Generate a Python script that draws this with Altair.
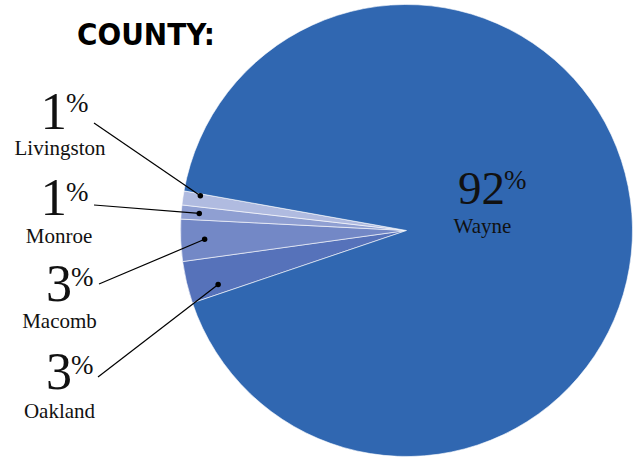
import math
import numpy as np
import pandas as pd
import altair as alt

# ---- data ----
counties = ["Oakland", "Macomb", "Monroe", "Livingston", "Wayne"]
shares = [3, 3, 1, 1, 92]
colors = ["#5672BA", "#7388C6", "#8F9FD2", "#B0BBE0", "#3067B1"]

# ---- layout ----
W, H = 634, 457
CX, CY, R = 406.5, 230.5, 226
START_DEG = 251.3
dot_frac_angle = [0.25, 0.5, 0.5, 0.85, None]
dot_frac_radius = [0.867, 0.894, 0.92, 0.925, None]
lead_x = [98, 99, 94, 94, None]
lead_y = [377, 284, 205, 123, None]
name_x = [59.5, 59.5, 59, 60, 482.5]
name_y = [418, 328, 243, 155, 233]
num_x = [72, 72, 67, 67, 505]
num_y = [389, 301, 215, 129, 204]
num_size = [52, 52, 53, 53, 47]
pct_y = [374, 286, 201, 112, 189]

total = sum(shares)
a0 = math.radians(START_DEG)
cum = np.concatenate([[0], np.cumsum(shares)])

rows = []
for i, c in enumerate(counties):
    rows.append({"county": c, "share": shares[i], "order": i})
pie_df = pd.DataFrame(rows)

dot_rows = []
for i, c in enumerate(counties):
    if dot_frac_angle[i] is None:
        continue
    frac = (cum[i] + dot_frac_angle[i] * shares[i]) / total
    ang = a0 + 2 * math.pi * frac
    r = R * dot_frac_radius[i]
    dx = CX + r * math.sin(ang)
    dy = CY - r * math.cos(ang)
    dot_rows.append({"county": c, "dx": dx, "dy": dy, "lx": lead_x[i], "ly": lead_y[i]})
dot_df = pd.DataFrame(dot_rows)

lab_rows = []
for i, c in enumerate(counties):
    lab_rows.append({
        "county": c, "num": str(shares[i]), "pct": "%",
        "nx": name_x[i], "ny": name_y[i],
        "numx": num_x[i], "numy": num_y[i], "pcty": pct_y[i], "size": num_size[i],
    })
lab_df = pd.DataFrame(lab_rows)

xs = alt.Scale(domain=[0, W], nice=False, zero=False)
ys = alt.Scale(domain=[0, H], nice=False, zero=False, reverse=True)
SERIF = "Liberation Serif"

pie = alt.Chart(pie_df).mark_arc(outerRadius=R, stroke="#FFFFFF", strokeWidth=0.6).encode(
    theta=alt.Theta("share:Q", stack=True, scale=alt.Scale(range=[a0, a0 + 2 * math.pi])),
    order=alt.Order("order:Q", sort="ascending"),
    color=alt.Color("county:N", scale=alt.Scale(domain=counties, range=colors), legend=None),
    x=alt.value(CX),
    y=alt.value(CY),
)

leaders = alt.Chart(dot_df).mark_rule(color="#000000", strokeWidth=1.2).encode(
    x=alt.X("lx:Q", scale=xs, axis=None),
    y=alt.Y("ly:Q", scale=ys, axis=None),
    x2="dx:Q",
    y2="dy:Q",
)

dots = alt.Chart(dot_df).mark_point(filled=True, color="#000000", size=30, opacity=1).encode(
    x=alt.X("dx:Q", scale=xs, axis=None),
    y=alt.Y("dy:Q", scale=ys, axis=None),
)

nums = alt.Chart(lab_df).mark_text(align="right", baseline="alphabetic", font=SERIF, color="#111111").encode(
    x=alt.X("numx:Q", scale=xs, axis=None),
    y=alt.Y("numy:Q", scale=ys, axis=None),
    text="num:N",
    size=alt.Size("size:Q", scale=None, legend=None),
)

pcts = alt.Chart(lab_df).mark_text(align="left", baseline="alphabetic", font=SERIF, fontSize=27,
                                   dx=-1, color="#111111").encode(
    x=alt.X("numx:Q", scale=xs, axis=None),
    y=alt.Y("pcty:Q", scale=ys, axis=None),
    text="pct:N",
)

names = alt.Chart(lab_df).mark_text(align="center", baseline="alphabetic", font=SERIF, fontSize=21,
                                    color="#111111").encode(
    x=alt.X("nx:Q", scale=xs, axis=None),
    y=alt.Y("ny:Q", scale=ys, axis=None),
    text="county:N",
)

title = alt.Chart(pd.DataFrame({"t": ["COUNTY:"]})).mark_text(
    align="left", baseline="alphabetic", font="DejaVu Sans Condensed, sans-serif",
    fontSize=31, fontWeight="bold", color="#000000",
).encode(x=alt.value(77), y=alt.value(45), text="t:N")

chart = alt.layer(pie, leaders, dots, nums, pcts, names, title).properties(
    width=W, height=H, autosize=alt.AutoSizeParams(type="none"), padding=0,
).configure_view(stroke=None)

chart.save("out.html", embed_options={"renderer": "svg", "actions": False})
